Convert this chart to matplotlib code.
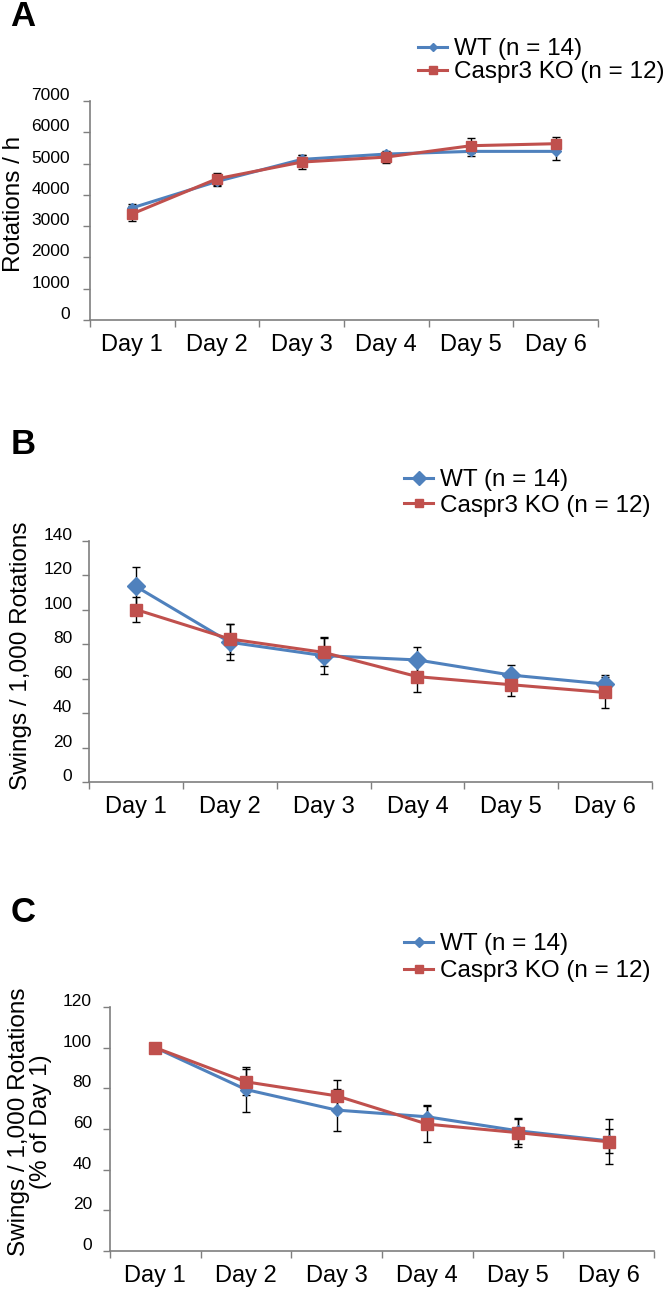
import matplotlib
matplotlib.use("Agg")
import matplotlib.pyplot as plt
import matplotlib.transforms as mtransforms

plt.rcParams['font.family'] = ['Liberation Sans', 'DejaVu Sans']

days = ["Day 1", "Day 2", "Day 3", "Day 4", "Day 5", "Day 6"]
wt_label = "WT (n = 14)"
ko_label = "Caspr3 KO (n = 12)"

# A: rotations per hour
rot_wt = [3586, 4429, 5133, 5304, 5390, 5390]
rot_wt_err = [128, 150, 140, 80, 150, 267]
rot_ko = [3394, 4514, 5048, 5208, 5571, 5635]
rot_ko_err = [235, 190, 213, 200, 245, 224]

# B: swings per 1,000 rotations
sw_wt = [113.6, 81.2, 73.4, 70.9, 62.1, 56.9]
sw_wt_err = [11.3, 10.3, 10.7, 7.7, 5.9, 5.4]
sw_ko = [100.2, 83.1, 75.3, 61.2, 56.5, 52.0]
sw_ko_err = [7.0, 8.7, 8.2, 9.2, 6.6, 9.1]

# C: swings as % of day 1
pct_wt = [100, 79.4, 69.3, 66.0, 59.1, 54.2]
pct_wt_err = [0, 10.9, 10.2, 6.0, 6.4, 6.0]
pct_ko = [100, 83.2, 76.3, 62.4, 58.2, 53.7]
pct_ko_err = [0, 6.4, 8.0, 8.8, 6.9, 11.0]

BLUE = "#4F81BD"
RED = "#C0504D"
AXCOL = "#7f7f7f"

W, H = 667, 1291
fig = plt.figure(figsize=(W / 100, H / 100), dpi=100)


def px_axes(left, right, top, bottom):
    return fig.add_axes([left / W, 1 - bottom / H, (right - left) / W, (bottom - top) / H])


def panel(ax, wt, wt_err, ko, ko_err, ymax, ystep, msd, mss, ypad, leg_xy, leg_sp):
    x = list(range(len(days)))
    ax.errorbar(x, wt, yerr=wt_err, fmt="none", ecolor="black", elinewidth=1.0,
                capsize=3, capthick=1.0, zorder=2)
    ax.errorbar(x, ko, yerr=ko_err, fmt="none", ecolor="black", elinewidth=1.0,
                capsize=3, capthick=1.0, zorder=2)
    l1, = ax.plot(x, wt, color=BLUE, lw=2.2, marker="D", ms=msd, zorder=3)
    l2, = ax.plot(x, ko, color=RED, lw=2.2, marker="s", ms=mss, zorder=4)

    ax.set_xlim(-0.5, len(days) - 0.5)
    ax.set_ylim(0, ymax)
    # Excel style: ticks between categories, labels centred on them
    ax.set_xticks([i - 0.5 for i in range(len(days) + 1)])
    ax.set_xticklabels([])
    ax.set_xticks(x, minor=True)
    ax.set_xticklabels(days, minor=True, fontsize=17)
    ax.tick_params(axis="x", which="major", direction="out", length=5, color=AXCOL, width=1)
    ax.tick_params(axis="x", which="minor", length=0, pad=10)
    ax.set_yticks(range(0, ymax + 1, ystep))
    ax.tick_params(axis="y", direction="out", length=5, color=AXCOL, width=1,
                   labelsize=12.5, pad=ypad)
    shift = mtransforms.ScaledTranslation(0, 0.07, fig.dpi_scale_trans)
    for lab in ax.get_yticklabels():
        lab.set_transform(lab.get_transform() + shift)
    for s in ["top", "right"]:
        ax.spines[s].set_visible(False)
    for s in ["left", "bottom"]:
        ax.spines[s].set_color(AXCOL)
        ax.spines[s].set_linewidth(1.2)

    ax.legend([l1, l2], [wt_label, ko_label], loc="upper left",
              bbox_to_anchor=(leg_xy[0] / W, 1 - leg_xy[1] / H),
              bbox_transform=fig.transFigure, frameon=False, fontsize=17.5,
              handlelength=1.2, handletextpad=0.3, labelspacing=leg_sp,
              borderpad=0, borderaxespad=0, markerscale=0.8)


axA = px_axes(90, 598, 101, 320)
panel(axA, rot_wt, rot_wt_err, rot_ko, rot_ko_err, 7000, 1000, 5, 7, 9.4, (418, 38), 0.05)
axB = px_axes(89, 652, 541, 782)
panel(axB, sw_wt, sw_wt_err, sw_ko, sw_ko_err, 140, 20, 9, 8, 7, (404, 469), 0.15)
axC = px_axes(110, 654, 1007, 1251)
panel(axC, pct_wt, pct_wt_err, pct_ko, pct_ko_err, 120, 20, 6, 8, 8, (404, 933), 0.22)

fig.text(14 / W, 1 - 204 / H, "Rotations / h", rotation=90, ha="center", va="center", fontsize=17.5)
fig.text(21 / W, 1 - 656 / H, "Swings / 1,000 Rotations", rotation=90, ha="center", va="center",
         fontsize=17.5)
fig.text(30 / W, 1 - 1122 / H, "Swings / 1,000 Rotations\n(% of Day 1)", rotation=90,
         ha="center", va="center", multialignment="center", fontsize=17.5, linespacing=1.0)

for lbl, yc in [("A", 17), ("B", 444), ("C", 912)]:
    fig.text(23 / W, 1 - yc / H, lbl, ha="center", va="center", fontsize=25, fontweight="bold")

fig.savefig("out.png", dpi=100)
